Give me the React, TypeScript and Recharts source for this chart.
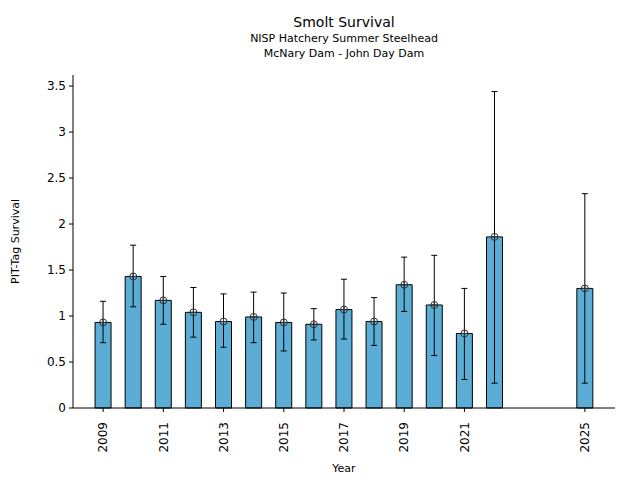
import { Bar, ComposedChart, ErrorBar, Scatter, XAxis, YAxis } from "recharts";

const years = [2009, 2010, 2011, 2012, 2013, 2014, 2015, 2016, 2017, 2018, 2019, 2020, 2021, 2022, 2025];
const survival = [0.93, 1.43, 1.17, 1.04, 0.94, 0.99, 0.93, 0.91, 1.07, 0.94, 1.34, 1.12, 0.81, 1.86, 1.3];
const lowerCI = [0.71, 1.1, 0.91, 0.77, 0.66, 0.71, 0.62, 0.74, 0.75, 0.68, 1.05, 0.57, 0.31, 0.27, 0.27];
const upperCI = [1.16, 1.77, 1.43, 1.31, 1.24, 1.26, 1.25, 1.08, 1.4, 1.2, 1.64, 1.66, 1.3, 3.44, 2.33];
const xTicks = [2009, 2011, 2013, 2015, 2017, 2019, 2021, 2025];
const yTicks = [0, 0.5, 1, 1.5, 2, 2.5, 3, 3.5];

const data = years.map((year, i) => ({
  year,
  value: survival[i],
  err: [survival[i] - lowerCI[i], upperCI[i] - survival[i]],
}));

const FONT = "DejaVu Sans";

const XTick = ({ x, y, payload }: any) => (
  <g transform={`translate(${x},${y})`}>
    <text transform="rotate(-90)" x={-8} y={0} dy="0.35em" textAnchor="end" fontSize={12} fontFamily={FONT} fill="#000">
      {payload.value}
    </text>
  </g>
);

const Marker = ({ cx, cy }: any) => (
  <g stroke="#333" strokeWidth={1} fill="none">
    <circle cx={cx} cy={cy} r={3.5} />
    <line x1={cx - 3.5} y1={cy} x2={cx + 3.5} y2={cy} />
    <line x1={cx} y1={cy - 3.5} x2={cx} y2={cy + 3.5} />
  </g>
);

export default function App() {
  return (
    <div style={{ position: "absolute", left: 0, top: 0, width: 640, height: 480, fontFamily: FONT }}>
      <div style={{ position: "absolute", left: 0, width: 688, top: 14, textAlign: "center", fontSize: 14, lineHeight: "16px" }}>
        Smolt Survival
      </div>
      <div style={{ position: "absolute", left: 0, width: 688, top: 31, textAlign: "center", fontSize: 11, lineHeight: "15px" }}>
        NISP Hatchery Summer Steelhead
        <br />
        McNary Dam - John Day Dam
      </div>
      <ComposedChart width={640} height={480} data={data} margin={{ top: 75, right: 25, bottom: 22, left: 0 }}>
        <XAxis
          dataKey="year"
          type="number"
          domain={[2008, 2026]}
          ticks={xTicks}
          interval={0}
          height={50}
          tick={<XTick />}
          tickSize={4}
          tickMargin={2}
          stroke="#000"
          label={{ value: "Year", position: "insideBottom", offset: -14, fontSize: 11, fontFamily: FONT, fill: "#000" }}
        />
        <YAxis
          type="number"
          domain={[0, 3.62]}
          ticks={yTicks}
          width={73}
          tickSize={4}
          tickMargin={3}
          stroke="#000"
          tick={{ fontSize: 12, fontFamily: FONT, fill: "#000" }}
          label={{ value: "PIT-Tag Survival", angle: -90, position: "insideLeft", offset: 15, fontSize: 11, fontFamily: FONT, fill: "#000", style: { textAnchor: "middle" } }}
        />
        <Bar dataKey="value" barSize={16} fill="#5BADD6" stroke="#000" strokeWidth={1} isAnimationActive={false}>
          <ErrorBar dataKey="err" direction="y" width={3} stroke="#000" strokeWidth={1} />
        </Bar>
        <Scatter dataKey="value" shape={<Marker />} isAnimationActive={false} />
      </ComposedChart>
    </div>
  );
}
